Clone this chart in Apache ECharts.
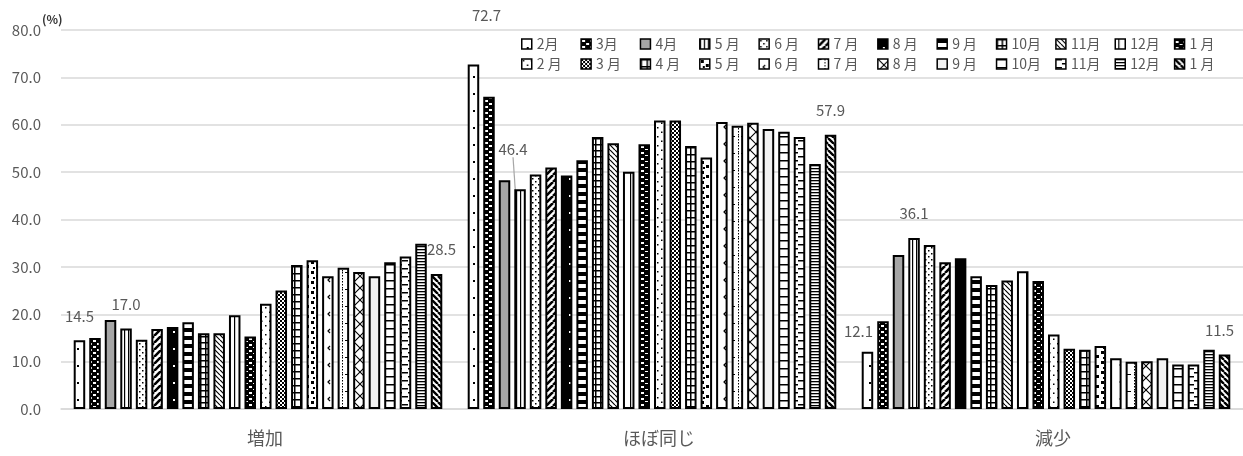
<!DOCTYPE html>
<html>
<head>
<meta charset="utf-8">
<script src="https://cdn.jsdelivr.net/npm/echarts@6/dist/echarts.min.js"></script>
<style>
  html, body { margin: 0; padding: 0; background: #fff; }
  #chart { width: 1243px; height: 456px; }
</style>
</head>
<body>
<div id="chart"></div>
<script>
// カテゴリ
var categories = ['増加', 'ほぼ同じ', '減少'];
// 凡例(上段・下段)
var legendRow1 = ['2月', '3月', '4月', '5 月', '6 月', '7 月', '8 月', '9 月', '10月', '11月', '12月', '1 月'];
var legendRow2 = ['2 月', '3 月', '4 月', '5 月', '6 月', '7 月', '8 月', '9 月', '10月', '11月', '12月', '1 月'];
// 各カテゴリの値(24系列ぶん、凡例順)
var zouka  = [14.5, 15.0, 18.8, 17.0, 14.6, 16.9, 17.3, 18.3, 16.0, 16.0, 19.8, 15.3,
              22.2, 25.0, 30.4, 31.4, 28.0, 29.8, 28.9, 28.0, 31.0, 32.2, 34.9, 28.5];
var hobo   = [72.7, 65.9, 48.3, 46.4, 49.5, 51.0, 49.3, 52.5, 57.4, 56.1, 50.1, 55.9,
              60.9, 60.9, 55.5, 53.1, 60.6, 59.8, 60.4, 59.1, 58.5, 57.4, 51.7, 57.9];
var gensho = [12.1, 18.5, 32.5, 36.1, 34.6, 31.0, 31.8, 28.0, 26.2, 27.1, 29.1, 27.0,
              15.7, 12.7, 12.5, 13.3, 10.7, 10.0, 10.1, 10.7, 9.4, 9.4, 12.5, 11.5];
// y軸目盛
var yMin = 0, yMax = 80, yStep = 10;

var chart = echarts.init(document.getElementById('chart'));

// パターン塗り
function makePattern(w, h, bg, draw) {
    var c = document.createElement('canvas');
    c.width = w; c.height = h;
    var ctx = c.getContext('2d');
    ctx.fillStyle = bg;
    ctx.fillRect(0, 0, w, h);
    ctx.fillStyle = '#000';
    ctx.strokeStyle = '#000';
    if (draw) draw(ctx, w, h);
    return { image: c, repeat: 'repeat' };
}
function diag(ctx, w, t, up) {
    ctx.lineWidth = t;
    ctx.beginPath();
    for (var k = -w; k <= w; k += w) {
        if (up) { ctx.moveTo(k, w); ctx.lineTo(k + w, 0); }
        else { ctx.moveTo(k, 0); ctx.lineTo(k + w, w); }
    }
    ctx.stroke();
}
function wrect(ctx, list) {
    ctx.fillStyle = '#fff';
    list.forEach(function (r) { ctx.fillRect(r[0], r[1], r[2], r[3]); });
}

var patterns = [
    // 上段
    makePattern(12, 17, '#fff', function (ctx) { ctx.fillRect(5, 8, 2, 2); }),
    makePattern(8, 6, '#000', function (ctx) { wrect(ctx, [[1, 1, 3, 2], [5, 4, 3, 2]]); }),
    makePattern(4, 4, '#a6a6a6'),
    makePattern(4, 4, '#fff', function (ctx) { ctx.fillRect(0, 0, 1.2, 4); }),
    makePattern(6, 6, '#fff', function (ctx) { ctx.fillRect(1, 1, 1.5, 1.5); ctx.fillRect(4, 4, 1.5, 1.5); }),
    makePattern(7, 7, '#fff', function (ctx, w) { diag(ctx, w, 2.6, true); }),
    makePattern(12, 17, '#000', function (ctx) { wrect(ctx, [[5, 8, 2, 2]]); }),
    makePattern(4, 8, '#fff', function (ctx) { ctx.fillRect(0, 0, 4, 4); }),
    makePattern(5, 6, '#fff', function (ctx) { ctx.fillRect(0, 0, 1.5, 6); ctx.fillRect(0, 0, 5, 1.5); }),
    makePattern(5, 5, '#fff', function (ctx, w) { diag(ctx, w, 1.2, false); }),
    makePattern(11, 4, '#fff', function (ctx) { ctx.fillRect(3, 0, 1.2, 4); }),
    makePattern(8, 6, '#000', function (ctx) { wrect(ctx, [[1, 2, 3, 2], [5, 5, 3, 1]]); }),
    // 下段
    makePattern(8, 9, '#fff', function (ctx) { ctx.fillRect(1, 1, 1.5, 1.5); ctx.fillRect(5, 5.5, 1.5, 1.5); }),
    makePattern(4, 4, '#fff', function (ctx) { ctx.fillRect(0, 0, 2, 2); ctx.fillRect(2, 2, 2, 2); }),
    makePattern(6, 7, '#fff', function (ctx) { ctx.fillRect(0, 0, 1.5, 7); ctx.fillRect(0, 0, 6, 1.5); }),
    makePattern(10, 10, '#fff', function (ctx) { ctx.fillRect(1, 1, 3, 3); ctx.fillRect(6, 5, 3, 3); ctx.fillRect(3, 7, 2, 2); }),
    makePattern(12, 17, '#fff', function (ctx) {
        ctx.lineWidth = 1.2; ctx.beginPath(); ctx.moveTo(6, 6); ctx.lineTo(4, 8); ctx.lineTo(6, 10); ctx.stroke();
    }),
    makePattern(12, 17, '#fff', function (ctx) {
        for (var y = 0; y < 17; y += 3) ctx.fillRect(6, y, 1, 1.5);
        ctx.fillRect(0, 0, 3, 1); ctx.fillRect(9, 0, 3, 1);
    }),
    makePattern(12, 12, '#fff', function (ctx, w) { diag(ctx, w, 1.1, true); diag(ctx, w, 1.1, false); }),
    makePattern(4, 4, '#f2f2f2'),
    makePattern(4, 8, '#fff', function (ctx) { ctx.fillRect(0, 0, 4, 1.5); }),
    makePattern(12, 8, '#fff', function (ctx) { ctx.fillRect(0, 0, 6, 1.5); ctx.fillRect(6, 4, 6, 1.5); }),
    makePattern(4, 3, '#fff', function (ctx) { ctx.fillRect(0, 0, 4, 1.3); }),
    makePattern(6, 6, '#fff', function (ctx, w) { diag(ctx, w, 2.4, false); })
];

var legendNames = legendRow1.concat(legendRow2);
var seriesIds = legendNames.map(function (n, i) { return 's' + i; });

// ラベルを出す系列と位置調整
var labelSeries = [0, 3, 23];
var labelMoves = {
    0: { 1: { dx: 13, dy: -25 }, 2: { dx: -9, dy: 4 } },
    3: { 1: { dx: -7, dy: -15 } },
    23: { 0: { dx: 5, dy: 0 }, 2: { dx: -5, dy: 0 } }
};

var series = seriesIds.map(function (id, i) {
    var vals = [zouka[i], hobo[i], gensho[i]];
    var hasLabel = labelSeries.indexOf(i) >= 0;
    var s = {
        name: id,
        type: 'bar',
        barWidth: 11.5,
        barGap: '35%',
        itemStyle: { color: patterns[i], borderColor: '#000', borderWidth: 2 },
        emphasis: { disabled: true },
        label: {
            show: hasLabel,
            position: 'top',
            distance: 17,
            color: '#595959',
            fontSize: 15,
            formatter: function (p) { return p.value.toFixed(1); }
        },
        data: vals.map(function (v) { return { value: v }; })
    };
    if (i === 3) {
        // 46.4 の引き出し線
        s.labelLine = { show: true, lineStyle: { color: '#a6a6a6', width: 1.2 } };
        s.data[0].labelLine = { show: false };
        s.data[2].labelLine = { show: false };
    }
    if (labelMoves[i]) {
        s.labelLayout = function (p) {
            var m = labelMoves[i][p.dataIndex];
            return m ? { dx: m.dx, dy: m.dy } : {};
        };
    }
    return s;
});

function legendFmt(name) {
    return legendNames[+name.slice(1)];
}
var legendCommon = {
    left: 516,
    itemWidth: 10,
    itemHeight: 10,
    itemGap: 7.6,
    icon: 'rect',
    selectedMode: false,
    formatter: legendFmt,
    itemStyle: { borderWidth: 1.5 },
    textStyle: { color: '#595959', fontSize: 14, width: 36, lineHeight: 16 }
};

var option = {
    animation: false,
    textStyle: { fontFamily: 'Noto Sans CJK JP' },
    title: {
        text: '(%)',
        left: 37,
        top: 8,
        textStyle: { fontSize: 12, fontWeight: 'bold', color: '#333', fontFamily: 'Noto Sans CJK JP' }
    },
    legend: [
        echarts.util.extend({ top: 31, data: seriesIds.slice(0, 12) }, legendCommon),
        echarts.util.extend({ top: 51, data: seriesIds.slice(12) }, legendCommon)
    ],
    grid: { left: 61, right: -3, top: 30, bottom: 47, containLabel: false },
    xAxis: {
        type: 'category',
        data: categories,
        axisTick: { show: false },
        axisLine: { lineStyle: { color: '#d9d9d9', width: 1.5 } },
        axisLabel: { color: '#595959', fontSize: 18, margin: 20, padding: [0, 0, 0, 14] }
    },
    yAxis: {
        type: 'value',
        min: yMin,
        max: yMax,
        interval: yStep,
        axisLine: { show: false },
        axisTick: { show: false },
        splitLine: { lineStyle: { color: '#d9d9d9', width: 1.5 } },
        axisLabel: {
            color: '#595959',
            fontSize: 15,
            margin: 20,
            formatter: function (v) { return v.toFixed(1); }
        }
    },
    series: series
};
chart.setOption(option);
</script>
</body>
</html>
